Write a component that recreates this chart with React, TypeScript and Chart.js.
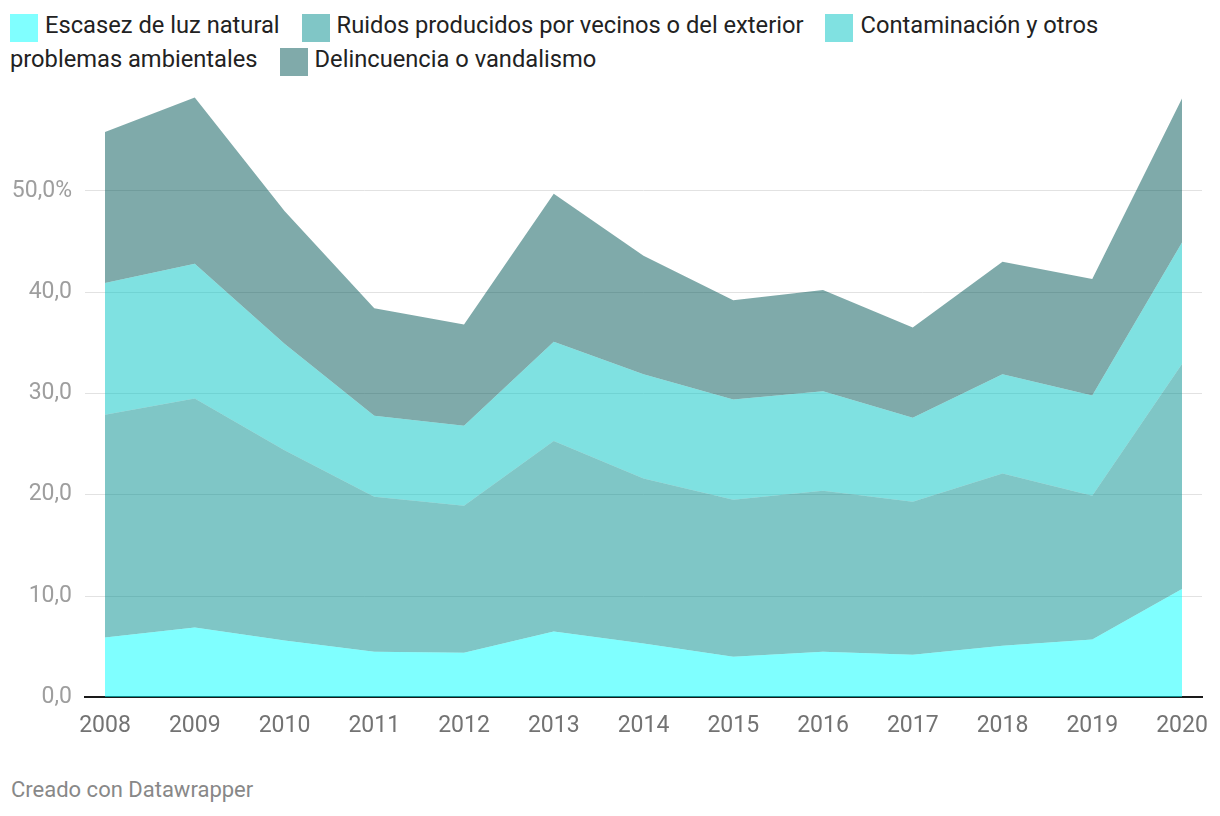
import React, { useEffect, useRef } from "react";
import { Chart, registerables } from "chart.js";

Chart.register(...registerables);

const years = [2008, 2009, 2010, 2011, 2012, 2013, 2014, 2015, 2016, 2017, 2018, 2019, 2020];
const escasezLuz = [5.9, 6.9, 5.6, 4.5, 4.4, 6.5, 5.3, 4.0, 4.5, 4.2, 5.1, 5.7, 10.7];
const ruidos = [22.0, 22.6, 18.8, 15.3, 14.5, 18.8, 16.3, 15.5, 15.9, 15.1, 17.0, 14.2, 22.2];
const contaminacion = [13.0, 13.3, 10.5, 8.0, 7.9, 9.8, 10.3, 9.9, 9.8, 8.3, 9.8, 9.9, 12.0];
const delincuencia = [14.9, 16.4, 13.1, 10.6, 10.0, 14.6, 11.7, 9.8, 10.0, 8.9, 11.1, 11.5, 14.2];
const yTicks = [0, 10, 20, 30, 40, 50];

const seriesNames = [
  "Escasez de luz natural",
  "Ruidos producidos por vecinos o del exterior",
  "Contaminación y otros problemas ambientales",
  "Delincuencia o vandalismo",
];
const fillColors = [
  "rgba(0,255,255,0.5)",
  "rgba(0,141,141,0.5)",
  "rgba(0,195,195,0.5)",
  "rgba(0,85,85,0.5)",
];
const swatchColors = ["#80ffff", "#80c6c6", "#80e1e1", "#80aaaa"];

const FONT = "Roboto, 'Noto Sans', sans-serif";

export default function App() {
  const canvasRef = useRef<HTMLCanvasElement | null>(null);

  useEffect(() => {
    if (!canvasRef.current) return;
    const allSeries = [escasezLuz, ruidos, contaminacion, delincuencia];
    const pxPad = 20 / 89.75;
    const chart = new Chart(canvasRef.current, {
      type: "line",
      data: {
        datasets: allSeries.map((s, i) => ({
          label: seriesNames[i],
          data: years.map((yr, j) => ({ x: yr, y: s[j] })),
          backgroundColor: fillColors[i],
          borderWidth: 0,
          borderColor: "rgba(0,0,0,0)",
          pointRadius: 0,
          pointHoverRadius: 0,
          tension: 0,
          fill: i === 0 ? "origin" : "-1",
        })),
      },
      options: {
        animation: false,
        responsive: false,
        maintainAspectRatio: false,
        events: [],
        layout: { padding: { top: 11.5, right: 10, bottom: 0, left: 0 } },
        plugins: {
          legend: { display: false },
          tooltip: { enabled: false },
          title: { display: false },
        },
        scales: {
          x: {
            type: "linear",
            min: years[0] - pxPad,
            max: years[years.length - 1] + pxPad,
            afterBuildTicks: (scale: any) => {
              scale.ticks = years.map((v) => ({ value: v }));
            },
            afterFit: (scale: any) => {
              scale.height = 60.7;
              scale.paddingLeft = 0;
              scale.paddingRight = 0;
            },
            grid: { display: false, drawTicks: false },
            border: { display: true, color: "#1a1a1a", width: 2 },
            ticks: {
              autoSkip: false,
              maxRotation: 0,
              padding: 15,
              color: "#737373",
              font: { family: FONT, size: 23 },
              callback: (v: any) => String(v),
            },
          },
          y: {
            type: "linear",
            stacked: true,
            min: 0,
            max: 60,
            afterBuildTicks: (scale: any) => {
              scale.ticks = yTicks.map((v) => ({ value: v }));
            },
            afterFit: (scale: any) => {
              scale.width = 77;
              scale.paddingTop = 0;
              scale.paddingBottom = 0;
            },
            grid: { color: "#e2e2e2", lineWidth: 1, drawTicks: false },
            border: { display: false },
            ticks: {
              padding: 13,
              color: "#9e9e9e",
              font: { family: FONT, size: 23 },
              callback: (v: any) => {
                const s = Number(v).toFixed(1).replace(".", ",");
                return v === 50 ? s + "%" : s;
              },
            },
          },
        },
      },
    });
    return () => chart.destroy();
  }, []);

  const legendItems = seriesNames.map((name, i) => (
    <span key={name}>
      <span
        style={{
          display: "inline-block",
          width: 28,
          height: 28,
          background: swatchColors[i],
          verticalAlign: "top",
          position: "relative",
          top: 6,
          marginLeft: i === 0 ? 0 : 22,
          marginRight: 7,
        }}
      />
      <span>{name}</span>
    </span>
  ));

  return (
    <div style={{ position: "relative", width: 1204, height: 800, overflow: "hidden", fontFamily: FONT }}>
      <div
        style={{
          position: "absolute",
          left: 2,
          top: 0,
          width: 1202,
          fontSize: 23.7,
          lineHeight: "34px",
          color: "#222",
        }}
      >
        {legendItems}
      </div>
      <div style={{ position: "absolute", left: 0, top: 70, width: 1204, height: 680 }}>
        <canvas ref={canvasRef} width={1204} height={680} style={{ width: 1204, height: 680, display: "block" }} />
      </div>
      <div
        style={{
          position: "absolute",
          left: 3,
          top: 769,
          fontSize: 22,
          lineHeight: "26px",
          color: "#888",
        }}
      >
        Creado con Datawrapper
      </div>
    </div>
  );
}
